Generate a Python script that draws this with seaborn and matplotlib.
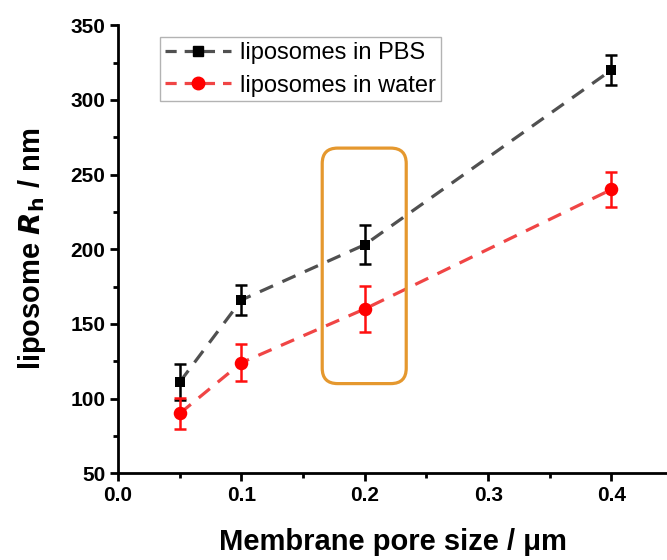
import matplotlib
matplotlib.use("Agg")
import matplotlib.pyplot as plt
import seaborn as sns
import pandas as pd
import numpy as np
from matplotlib.lines import Line2D
from matplotlib.patches import FancyBboxPatch
from matplotlib.ticker import MultipleLocator

pore_size = [0.05, 0.1, 0.2, 0.4]
rh_pbs = [111, 166, 203, 320]
err_pbs = [12, 10, 13, 10]
rh_water = [90, 124, 160, 240]
err_water = [10.5, 12.5, 15.5, 12]
series_names = ["liposomes in PBS", "liposomes in water"]
tick_labels_x = ["0.0", "0.1", "0.2", "0.3", "0.4"]

sns.set_theme(style="ticks")
plt.rcParams['font.family'] = ['Liberation Sans', 'DejaVu Sans']
plt.rcParams['font.weight'] = 'bold'
for k in ['text.color', 'axes.labelcolor', 'xtick.color', 'ytick.color', 'axes.edgecolor']:
    plt.rcParams[k] = 'black'

df = pd.DataFrame({
    "x": pore_size * 2,
    "y": rh_pbs + rh_water,
    "series": [series_names[0]] * 4 + [series_names[1]] * 4,
})

fig = plt.figure(figsize=(6.67, 5.6), dpi=100)
ax = fig.add_axes([0.177, 0.155, 0.823, 0.80])

line_cols = {series_names[0]: "#505050", series_names[1]: "#F04545"}

sns.lineplot(data=df, x="x", y="y", hue="series", palette=line_cols,
             ax=ax, legend=False, linewidth=2.3, sort=False)
for l in ax.get_lines():
    l.set_dashes((4.5, 3.2))

ax.errorbar(pore_size, rh_pbs, yerr=err_pbs, fmt='none', ecolor='black',
            elinewidth=1.8, capsize=4.2, capthick=1.8, zorder=4)
ax.errorbar(pore_size, rh_water, yerr=err_water, fmt='none', ecolor='#FF1010',
            elinewidth=1.8, capsize=4.2, capthick=1.8, zorder=4)

sns.scatterplot(data=df[df.series == series_names[0]], x="x", y="y", marker="s",
                color="black", s=60, edgecolor="black", linewidth=0, ax=ax, zorder=5)
sns.scatterplot(data=df[df.series == series_names[1]], x="x", y="y", marker="o",
                color="#FF0000", s=95, edgecolor="#FF0000", linewidth=0, ax=ax, zorder=5)

ax.set_xlim(0, 0.445)
ax.set_ylim(50, 350)

# highlight box (rounded) in data coords, aspect-corrected
px_per_x = 0.823 * 667 / 0.445
px_per_y = 0.80 * 560 / 300
box = FancyBboxPatch((0.1655, 110), 0.0681, 157.7,
                     boxstyle="round,pad=0,rounding_size=0.0125",
                     mutation_aspect=px_per_x / px_per_y,
                     fill=False, edgecolor="#E5982E", linewidth=2.3, zorder=3)
ax.add_patch(box)

ax.xaxis.set_major_locator(MultipleLocator(0.1))
ax.xaxis.set_minor_locator(MultipleLocator(0.05))
ax.yaxis.set_major_locator(MultipleLocator(50))
ax.yaxis.set_minor_locator(MultipleLocator(25))
ax.set_xticks([0.0, 0.1, 0.2, 0.3, 0.4])
ax.set_xticklabels(tick_labels_x)

ax.tick_params(axis='both', which='major', direction='out', length=6, width=2,
               labelsize=15, pad=3)
ax.tick_params(axis='both', which='minor', direction='out', length=3.5, width=2)
for lab in ax.get_xticklabels() + ax.get_yticklabels():
    lab.set_fontweight('bold')

for s in ["top", "right"]:
    ax.spines[s].set_visible(False)
for s in ["left", "bottom"]:
    ax.spines[s].set_linewidth(2)
    ax.spines[s].set_color("black")

ax.set_xlabel("Membrane pore size / \u03bcm", fontsize=21, fontweight='bold', labelpad=17)
ax.set_ylabel(r"liposome $\boldsymbol{R}_{\mathrm{h}}$ / nm", fontsize=21,
              fontweight='bold', labelpad=16)

handles = [
    Line2D([], [], color="#505050", linestyle=(0, (3.5, 2.5)), linewidth=2.3,
           marker="s", markersize=7.5, markerfacecolor="black", markeredgecolor="black"),
    Line2D([], [], color="#F04545", linestyle=(0, (3.5, 2.5)), linewidth=2.3,
           marker="o", markersize=9, markerfacecolor="#FF0000", markeredgecolor="#FF0000"),
]
leg = ax.legend(handles, series_names, loc="upper left", bbox_to_anchor=(0.076, 0.973),
                fontsize=17, frameon=True, fancybox=False, handlelength=2.8,
                borderpad=0.2, labelspacing=0.45, handletextpad=0.4, borderaxespad=0)
leg.get_frame().set_edgecolor("#A0A0A0")
leg.get_frame().set_linewidth(1)
for t in leg.get_texts():
    t.set_fontweight('normal')
    t.set_color('black')

fig.savefig("out.png", dpi=100)
